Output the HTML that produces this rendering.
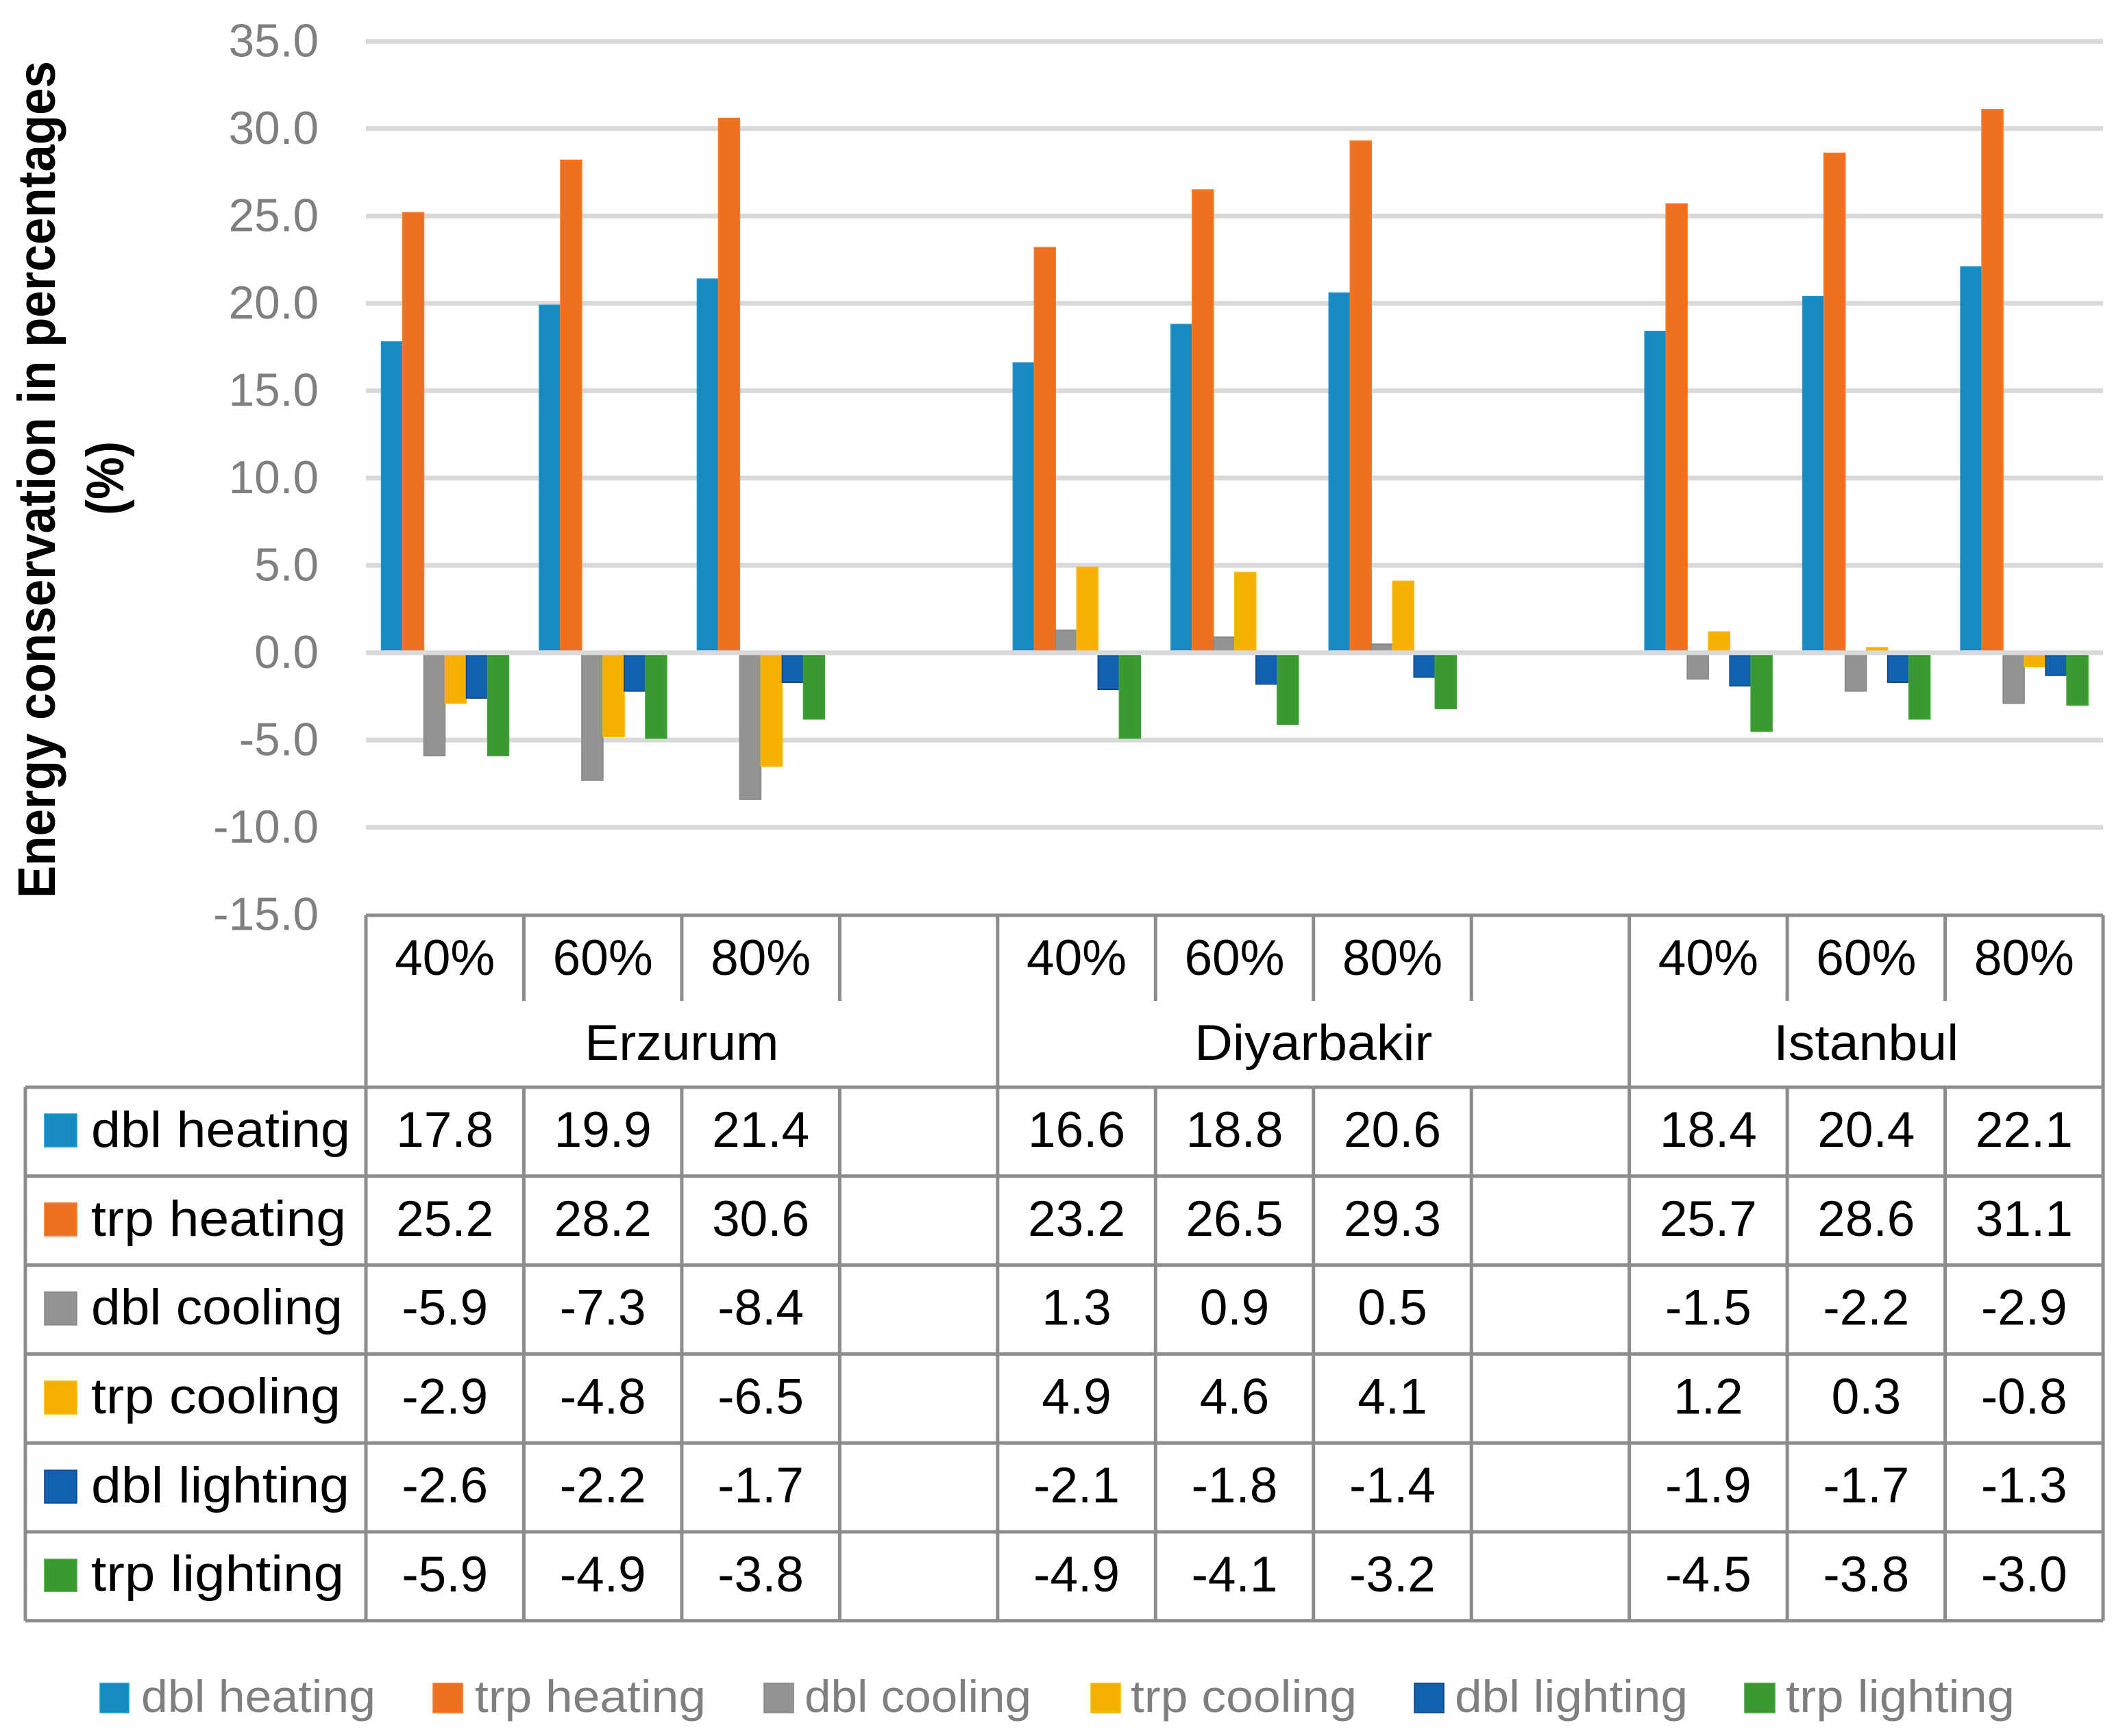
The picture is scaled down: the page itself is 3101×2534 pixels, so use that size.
<!DOCTYPE html>
<html lang="en">
<head>
<meta charset="utf-8">
<title>Energy conservation in percentages</title>
<style>
html,body{margin:0;padding:0;background:#fff;}
svg{display:block;font-family:"Liberation Sans",sans-serif;}
.s0{fill:#178bc1;stroke:#1e97d2;}
.s1{fill:#ef7021;stroke:#f67c28;}
.s2{fill:#939393;stroke:#858585;}
.s3{fill:#f5b000;stroke:#fbb80a;}
.s4{fill:#1261ae;stroke:#0c3f8c;}
.s5{fill:#3a9a31;stroke:#40a436;}
.bar,.sw{stroke-width:1.5;}
.grid{stroke:#d9d9d9;stroke-width:7;}
.tbl{stroke:#8c8c8c;stroke-width:5;}
.tick{fill:#7f7f7f;font-size:67.5px;text-anchor:end;}
.cell{fill:#000;font-size:73px;text-anchor:middle;}
.rowl{fill:#000;font-size:73px;}
.leg{fill:#7f7f7f;font-size:66px;}
.ttl{fill:#000;font-size:77px;font-weight:bold;text-anchor:middle;}
</style>
</head>
<body>
<svg id="chart" xmlns="http://www.w3.org/2000/svg" width="3101" height="2534" viewBox="0 0 3101 2534">
  <rect x="0" y="0" width="3101" height="2534" fill="#fff"/>
  <g id="gridlayer"></g>
  <g id="barlayer"></g>
  <g id="zerolayer"></g>
  <g id="ticklayer"></g>
  <g id="tablelayer"></g>

  <g>
    <text class="ttl" transform="translate(80,700) rotate(-90)" textLength="1222" lengthAdjust="spacingAndGlyphs">Energy conservation in percentages</text>
    <text class="ttl" transform="translate(180,698) rotate(-90)" textLength="108" lengthAdjust="spacingAndGlyphs">(%)</text>
  </g>

  <g>
    <rect class="sw s0" x="65" y="1626" width="47" height="48"/>
    <text class="rowl" x="133" y="1674" textLength="378" lengthAdjust="spacingAndGlyphs">dbl heating</text>
    <rect class="sw s1" x="65" y="1756" width="47" height="48"/>
    <text class="rowl" x="133" y="1804" textLength="372" lengthAdjust="spacingAndGlyphs">trp heating</text>
    <rect class="sw s2" x="65" y="1886" width="47" height="48"/>
    <text class="rowl" x="133" y="1933" textLength="367" lengthAdjust="spacingAndGlyphs">dbl cooling</text>
    <rect class="sw s3" x="65" y="2016" width="47" height="48"/>
    <text class="rowl" x="133" y="2063" textLength="364" lengthAdjust="spacingAndGlyphs">trp cooling</text>
    <rect class="sw s4" x="65" y="2146" width="47" height="48"/>
    <text class="rowl" x="133" y="2193" textLength="377" lengthAdjust="spacingAndGlyphs">dbl lighting</text>
    <rect class="sw s5" x="65" y="2276" width="47" height="47"/>
    <text class="rowl" x="133" y="2322" textLength="369" lengthAdjust="spacingAndGlyphs">trp lighting</text>
  </g>

  <g>
    <rect class="sw s0" x="146" y="2457" width="42" height="43"/>
    <text class="leg" x="206" y="2499" textLength="342" lengthAdjust="spacingAndGlyphs">dbl heating</text>
    <rect class="sw s1" x="632" y="2457" width="43" height="43"/>
    <text class="leg" x="693" y="2499" textLength="337" lengthAdjust="spacingAndGlyphs">trp heating</text>
    <rect class="sw s2" x="1115" y="2457" width="43" height="43"/>
    <text class="leg" x="1174" y="2499" textLength="331" lengthAdjust="spacingAndGlyphs">dbl cooling</text>
    <rect class="sw s3" x="1592" y="2457" width="43" height="43"/>
    <text class="leg" x="1650" y="2499" textLength="330" lengthAdjust="spacingAndGlyphs">trp cooling</text>
    <rect class="sw s4" x="2064" y="2457" width="43" height="43"/>
    <text class="leg" x="2123" y="2499" textLength="340" lengthAdjust="spacingAndGlyphs">dbl lighting</text>
    <rect class="sw s5" x="2546" y="2457" width="44" height="43"/>
    <text class="leg" x="2606" y="2499" textLength="334" lengthAdjust="spacingAndGlyphs">trp lighting</text>
  </g>
</svg>

<script>
var categories = ['40%','60%','80%','','40%','60%','80%','','40%','60%','80%'];
var cities = ['Erzurum','Diyarbakir','Istanbul'];
var tickValues = [35,30,25,20,15,10,5,0,-5,-10,-15];
var dblHeating = [17.8,19.9,21.4,null,16.6,18.8,20.6,null,18.4,20.4,22.1];
var trpHeating = [25.2,28.2,30.6,null,23.2,26.5,29.3,null,25.7,28.6,31.1];
var dblCooling = [-5.9,-7.3,-8.4,null,1.3,0.9,0.5,null,-1.5,-2.2,-2.9];
var trpCooling = [-2.9,-4.8,-6.5,null,4.9,4.6,4.1,null,1.2,0.3,-0.8];
var dblLighting = [-2.6,-2.2,-1.7,null,-2.1,-1.8,-1.4,null,-1.9,-1.7,-1.3];
var trpLighting = [-5.9,-4.9,-3.8,null,-4.9,-4.1,-3.2,null,-4.5,-3.8,-3.0];
var seriesNames = ['dbl-heating','trp-heating','dbl-cooling','trp-cooling','dbl-lighting','trp-lighting'];

(function () {
  var NS = 'http://www.w3.org/2000/svg';
  var series = [dblHeating, trpHeating, dblCooling, trpCooling, dblLighting, trpLighting];
  var plotLeft = 534, plotRight = 3069;
  var yTop = 60.3, pxPerUnit = 25.5, yMaxVal = 35;
  var catW = (plotRight - plotLeft) / categories.length;
  var barW = 31, barPad = 22.5;
  var tableTop = 1336, tickBottom = 1461, rowsTop = 1587, rowH = 129.8, tableLeft = 37;
  var rowsBottom = rowsTop + rowH * series.length;

  function yScale(v) { return yTop + (yMaxVal - v) * pxPerUnit; }
  function xCat(i) { return plotLeft + catW * i; }
  function make(parent, tag, attrs, txt) {
    var el = document.createElementNS(NS, tag);
    for (var k in attrs) el.setAttribute(k, attrs[k]);
    if (txt !== undefined) el.textContent = txt;
    document.getElementById(parent).appendChild(el);
    return el;
  }

  // gridlines and tick labels
  tickValues.forEach(function (t) {
    var y = yScale(t);
    if (t !== 0 && t !== -15) {
      var g = make('gridlayer', 'line', {'class':'grid', x1:plotLeft, x2:plotRight, y1:y, y2:y});
      
      
    }
    var lab = make('ticklayer', 'text', {'class':'tick', x:465, y:y + 22}, t.toFixed(1));
    
    
  });

  // bars
  series.forEach(function (vals, s) {
    vals.forEach(function (v, c) {
      if (v === null) return;
      var y0 = yScale(0), y1 = yScale(v);
      var r = make('barlayer', 'rect', {
        'class':'bar s' + s,
        x: xCat(c) + barPad + s * barW,
        y: Math.min(y0, y1),
        width: barW,
        height: Math.abs(y1 - y0)
      });
      
      
    });
  });

  // zero line sits over the bars
  var zero = make('zerolayer', 'line', {'class':'grid', x1:plotLeft, x2:plotRight, y1:yScale(0), y2:yScale(0)});
  
  

  // data table lines
  var top = make('tablelayer', 'line', {'class':'tbl', x1:plotLeft, x2:plotRight, y1:tableTop, y2:tableTop});
  
  
  for (var r = 0; r <= series.length; r++) {
    var ry = rowsTop + rowH * r;
    var hl = make('tablelayer', 'line', {'class':'tbl', x1:tableLeft, x2:plotRight, y1:ry, y2:ry});
    
    
  }
  var lb = make('tablelayer', 'line', {'class':'tbl', x1:tableLeft, x2:tableLeft, y1:rowsTop, y2:rowsBottom});
  
  
  for (var c = 0; c <= categories.length; c++) {
    var full = (c === 0 || c === categories.length || categories[c] !== '' && categories[c - 1] === '');
    var x = xCat(c);
    if (full) {
      var vf = make('tablelayer', 'line', {'class':'tbl', x1:x, x2:x, y1:tableTop, y2:rowsBottom});
      
      
    } else {
      var v1 = make('tablelayer', 'line', {'class':'tbl', x1:x, x2:x, y1:tableTop, y2:tickBottom});
      
      
      var v2 = make('tablelayer', 'line', {'class':'tbl', x1:x, x2:x, y1:rowsTop, y2:rowsBottom});
      
      
    }
  }

  // category headers
  categories.forEach(function (name, i) {
    if (!name) return;
    var h = make('tablelayer', 'text', {'class':'cell', x:xCat(i) + catW / 2, y:1423}, name);
    
    
  });

  // city labels: each group runs up to and including its blank column
  var groupStart = 0, cityIndex = 0;
  var cityWidths = {Erzurum:283, Diyarbakir:347, Istanbul:270};
  for (var i = 0; i <= categories.length; i++) {
    if (i === categories.length || categories[i] === '') {
      var end = i === categories.length ? i : i + 1;
      var cityName = cities[cityIndex];
      var t = make('tablelayer', 'text', {
        'class':'cell',
        x:(xCat(groupStart) + xCat(end)) / 2,
        y:1547,
        textLength:cityWidths[cityName],
        lengthAdjust:'spacingAndGlyphs'
      }, cityName);
      
      
      groupStart = end;
      cityIndex++;
    }
  }

  // printed values
  series.forEach(function (vals, s) {
    vals.forEach(function (v, c) {
      if (v === null) return;
      var cell = make('tablelayer', 'text', {
        'class':'cell',
        x: xCat(c) + catW / 2,
        y: rowsTop + rowH * s + 87
      }, v.toFixed(1));
      
      
    });
  });
})();
</script>
</body>
</html>
